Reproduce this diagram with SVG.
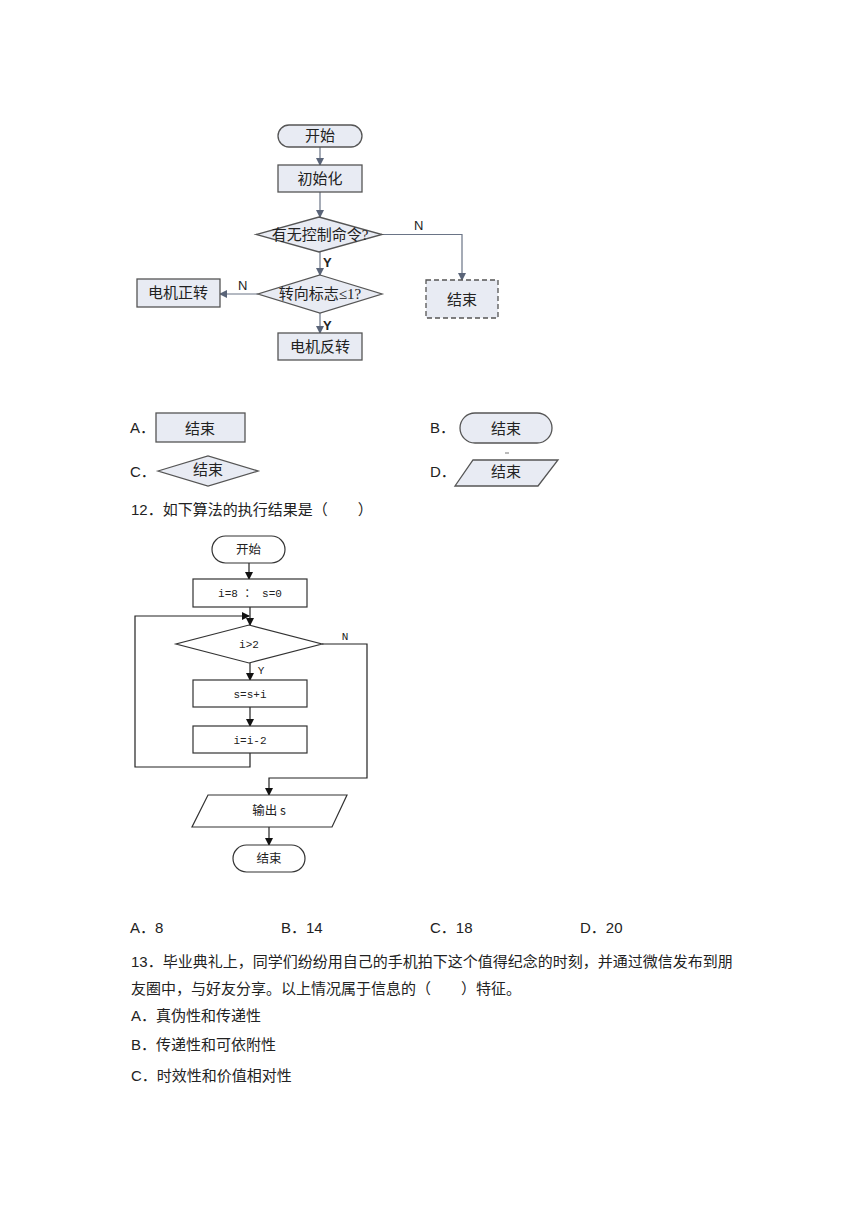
<svg xmlns="http://www.w3.org/2000/svg" width="860" height="1216" viewBox="0 0 860 1216">
<style>
.bx{fill:#e8ebf3;stroke:#555;stroke-width:1.3}
.bw{fill:#fff;stroke:#333;stroke-width:1.2}
.c1{fill:none;stroke:#6a7486;stroke-width:1.2}
.c2{fill:none;stroke:#222;stroke-width:1.2}
.t1{font-family:"Liberation Serif","Noto Sans CJK SC",serif;font-size:15px;fill:#222;text-anchor:middle}
.t2{font-family:"Liberation Mono","Noto Sans CJK SC",monospace;font-size:11px;fill:#222;text-anchor:middle}
.t3{font-family:"Noto Sans CJK SC",sans-serif;font-size:12.5px;fill:#222;text-anchor:middle}
.tx{font-family:"Liberation Sans","Noto Sans CJK SC",sans-serif;font-size:15px;fill:#222}
.lb{font-family:"Liberation Sans",sans-serif;font-size:13px;fill:#222}
</style>
<defs>
<marker id="ag" markerWidth="8" markerHeight="8" refX="7" refY="4" orient="auto" markerUnits="userSpaceOnUse"><path d="M0,0 L8,4 L0,8 Z" fill="#5a6478"/></marker>
<marker id="ab" markerWidth="8" markerHeight="8" refX="7" refY="4" orient="auto" markerUnits="userSpaceOnUse"><path d="M0,0 L8,4 L0,8 Z" fill="#111"/></marker>
</defs>
<rect width="860" height="1216" fill="#fff"/>

<!-- Top flowchart -->
<g id="connectors-top">
<line class="c1" x1="320" y1="147" x2="320" y2="165" marker-end="url(#ag)"/>
<line class="c1" x1="320" y1="192" x2="320" y2="217" marker-end="url(#ag)"/>
<polyline class="c1" points="382,234.5 462,234.5 462,280" marker-end="url(#ag)"/>
<line class="c1" x1="320" y1="252" x2="320" y2="275" marker-end="url(#ag)"/>
<line class="c1" x1="258" y1="294" x2="220" y2="294" marker-end="url(#ag)"/>
<line class="c1" x1="320" y1="313" x2="320" y2="333" marker-end="url(#ag)"/>
<text class="lb" x="414" y="230">N</text>
<text class="lb" x="323" y="267" font-weight="bold">Y</text>
<text class="lb" x="238" y="290">N</text>
<text class="lb" x="323" y="330" font-weight="bold">Y</text>
</g>
<g id="t-start"><rect class="bx" x="278" y="125" width="84" height="22" rx="11"/><text class="t1" x="320" y="141">开始</text></g>
<g id="t-init"><rect class="bx" x="278" y="165" width="84" height="27"/><text class="t1" x="320" y="184">初始化</text></g>
<g id="t-d1"><polygon class="bx" points="319,217 382,234.5 319,252 256,234.5"/><text class="t1" x="320" y="240">有无控制命令?</text></g>
<g id="t-end"><rect class="bx" x="426" y="280" width="72" height="38" stroke-dasharray="5,3"/><text class="t1" x="462" y="305" font-size="16">结束</text></g>
<g id="t-d2"><polygon class="bx" points="320,275 382,294 320,313 258,294"/><text class="t1" x="320" y="299">转向标志≤1?</text></g>
<g id="t-fwd"><rect class="bx" x="137" y="279" width="83" height="28"/><text class="t1" x="178" y="298">电机正转</text></g>
<g id="t-rev"><rect class="bx" x="278" y="333" width="84" height="27"/><text class="t1" x="320" y="352">电机反转</text></g>

<!-- Options -->
<g id="optA"><text class="tx" x="130" y="433">A．</text><rect class="bx" x="156" y="413" width="89" height="29"/><text class="t1" x="200" y="434" font-size="17">结束</text></g>
<g id="optB"><text class="tx" x="430" y="433">B．</text><rect class="bx" x="460" y="413" width="92" height="30" rx="15" stroke-width="1.6"/><text class="t1" x="506" y="434" font-size="17">结束</text><line x1="505" y1="453" x2="509" y2="453" stroke="#777" stroke-width="1"/></g>
<g id="optC"><text class="tx" x="130" y="477">C．</text><polygon class="bx" points="158,471 208,456 258,471 208,486"/><text class="t1" x="208" y="475" font-size="12">结束</text></g>
<g id="optD"><text class="tx" x="430" y="477">D．</text><polygon class="bx" points="473,460 558,460 538,486 455,486"/><text class="t1" x="506" y="477" font-size="12">结束</text></g>
<text class="tx" x="131" y="515">12．如下算法的执行结果是（　　）</text>

<!-- Second flowchart -->
<g id="connectors-2">
<line class="c2" x1="249" y1="563" x2="249" y2="579" marker-end="url(#ab)"/>
<line class="c2" x1="250" y1="607" x2="250" y2="625" marker-end="url(#ab)"/>
<polyline class="c2" points="250,753 250,767 135,767 135,616 249,616" marker-end="url(#ab)"/>
<polyline class="c2" points="322,644 367,644 367,778 269,778 269,795" marker-end="url(#ab)"/>
<line class="c2" x1="250" y1="663" x2="250" y2="680" marker-end="url(#ab)"/>
<line class="c2" x1="250" y1="707" x2="250" y2="726" marker-end="url(#ab)"/>
<line class="c2" x1="269" y1="827" x2="269" y2="845" marker-end="url(#ab)"/>
<text class="t2" x="345" y="640">N</text>
<text class="t2" x="261" y="674">Y</text>
</g>
<g id="f-start"><rect class="bw" x="212" y="536" width="73" height="27" rx="13.5"/><text class="t3" x="248.5" y="554">开始</text></g>
<g id="f-init"><rect class="bw" x="193" y="579" width="114" height="28"/><text class="t2" x="250" y="597" font-size="11.5">i=8 ： s=0</text></g>
<g id="f-cond"><polygon class="bw" points="249,625 322,644 249,663 176,644"/><text class="t2" x="249" y="648" font-size="11.5">i&gt;2</text></g>
<g id="f-sum"><rect class="bw" x="193" y="680" width="114" height="27"/><text class="t2" x="250" y="698" font-size="11.5">s=s+i</text></g>
<g id="f-dec"><rect class="bw" x="193" y="726" width="114" height="27"/><text class="t2" x="250" y="744" font-size="11.5">i=i-2</text></g>
<g id="f-out"><polygon class="bw" points="208,795 347,795 332,827 192,827"/><text class="t3" x="269" y="815">输出 s</text></g>
<g id="f-end"><rect class="bw" x="233" y="845" width="72" height="27" rx="13.5"/><text class="t3" x="269" y="863">结束</text></g>

<!-- Bottom text -->
<g id="bottom-text">
<text class="tx" x="130" y="933">A．8</text>
<text class="tx" x="281" y="933">B．14</text>
<text class="tx" x="430" y="933">C．18</text>
<text class="tx" x="580" y="933">D．20</text>
<text class="tx" x="131" y="967">13．毕业典礼上，同学们纷纷用自己的手机拍下这个值得纪念的时刻，并通过微信发布到朋</text>
<text class="tx" x="131" y="994">友圈中，与好友分享。以上情况属于信息的（　　）特征。</text>
<text class="tx" x="131" y="1021">A．真伪性和传递性</text>
<text class="tx" x="131" y="1050">B．传递性和可依附性</text>
<text class="tx" x="131" y="1081">C．时效性和价值相对性</text>
</g>
</svg>
